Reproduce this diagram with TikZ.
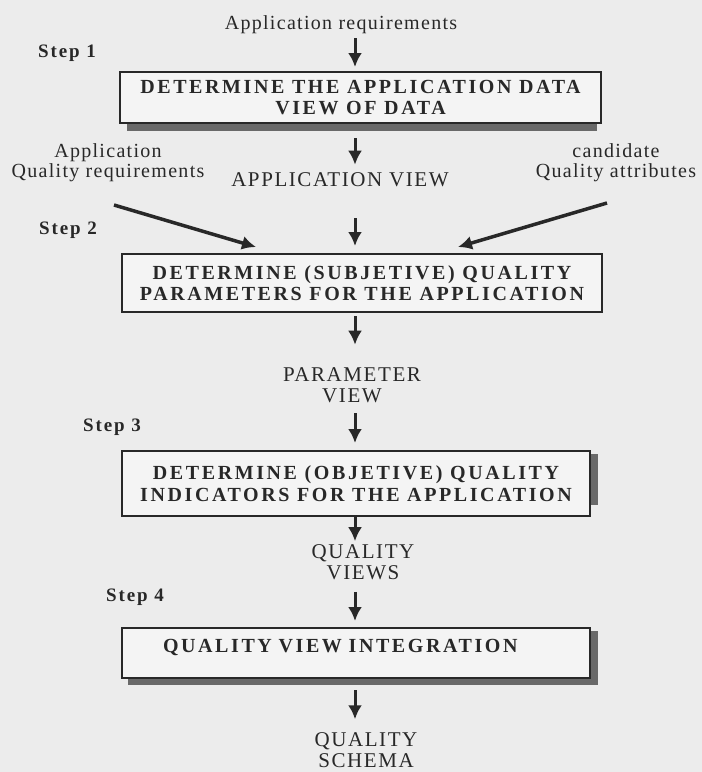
\documentclass[tikz,border=0pt]{standalone}
\usepackage{fontspec}
\setmainfont{Liberation Serif}
\newfontfamily\capsfont[LetterSpace=7.5]{Liberation Serif}
\newfontfamily\lowfont[LetterSpace=6.5]{Liberation Serif}
\newfontfamily\boxfont[LetterSpace=13]{Liberation Serif}
\newfontfamily\stepfont[LetterSpace=10]{Liberation Serif}
\usetikzlibrary{arrows.meta,backgrounds}
\definecolor{paper}{RGB}{236,236,236}
\definecolor{ink}{RGB}{40,40,40}
\definecolor{shade}{RGB}{105,105,105}

\begin{document}
\begin{tikzpicture}[x=1pt,y=-1pt,
    stepbox/.style={draw=ink, line width=2pt, fill=white!40!paper, align=center,
        inner sep=0pt, text=ink, font=\boxfont\bfseries\fontsize{20}{21.5}\selectfont},
    steplabel/.style={text=ink, inner sep=2pt, font=\stepfont\bfseries\fontsize{19}{20}\selectfont},
    lowtext/.style={align=center, text=ink, inner sep=2pt, font=\lowfont\fontsize{20}{20}\selectfont},
    viewtext/.style={align=center, text=ink, inner sep=2pt, font=\capsfont\fontsize{21}{21}\selectfont},
    flow/.style={-{Latex[length=14pt,width=14pt]}, line width=3pt, draw=ink},
    shadow/.style={fill=shade}]

    \useasboundingbox (0,0) rectangle (702,772);
    \coordinate (axis) at (355,0);

    % inputs and steps
    \node[lowtext] (req) at (341,25) {Application requirements};
    \node[steplabel] (step1) at (67,53) {Step 1};
    \node[stepbox, minimum width=481pt, minimum height=51pt] (box1) at (360.5,97.5)
        {DETERMINE THE APPLICATION DATA\\VIEW OF DATA};

    \node[lowtext] (aqr) at (108,163) {Application\\Quality requirements};
    \node[viewtext] (appview) at (340,180) {APPLICATION VIEW};
    \node[lowtext] (cqa) at (616,163) {candidate\\Quality attributes};
    \coordinate (aqrtail) at (114,205);
    \coordinate (cqatail) at (607,203);

    \node[steplabel] (step2) at (68,230) {Step 2};
    \node[stepbox, minimum width=480pt, minimum height=58pt] (box2) at (362,283)
        {DETERMINE (SUBJETIVE) QUALITY\\PARAMETERS FOR THE APPLICATION};
    \node[viewtext] (paramview) at (352,385.5) {PARAMETER\\VIEW};

    \node[steplabel] (step3) at (112,427) {Step 3};
    \node[stepbox, minimum width=468pt, minimum height=65pt] (box3) at (356,483.5)
        {DETERMINE (OBJETIVE) QUALITY\\INDICATORS FOR THE APPLICATION};
    \node[viewtext] (qviews) at (363,562) {QUALITY\\VIEWS};

    \node[steplabel] (step4) at (135,597) {Step 4};
    \node[stepbox, minimum width=468pt, minimum height=50pt, align=left,
        text width=386pt, inner xsep=41pt, text height=14pt, text depth=15pt] (box4) at (356,653)
        {QUALITY VIEW INTEGRATION};
    \node[viewtext] (qschema) at (366,750) {QUALITY\\SCHEMA};

    % paper and shadows
    \begin{scope}[on background layer]
        \fill[paper] (0,0) rectangle (702,772);
        \fill[shadow] ([xshift=8pt]box1.south west) rectangle ([xshift=-5pt,yshift=-7pt]box1.south east);
        \fill[shadow] ([yshift=-4pt]box3.north east) rectangle ([xshift=7pt,yshift=12pt]box3.south east);
        \fill[shadow] ([xshift=7pt,yshift=-6pt]box4.south west) rectangle ([xshift=7pt,yshift=-4pt]box4.north east);
    \end{scope}

    % arrows
    \draw[flow, shorten <=2pt, shorten >=4pt] (req.south -| axis) -- (box1.north -| axis);
    \draw[flow, shorten <=14pt, shorten >=6pt] (box1.south -| axis) -- (appview.north -| axis);
    \draw[flow, shorten <=29pt, shorten >=7pt] (appview.south -| axis) -- (box2.north -| axis);
    \draw[flow, line width=3.5pt] (aqrtail) -- ([xshift=135pt,yshift=6pt]box2.north west);
    \draw[flow, line width=3.5pt] (cqatail) -- ([xshift=-145pt,yshift=6pt]box2.north east);
    \draw[flow, shorten <=3pt, shorten >=21pt] (box2.south -| axis) -- (paramview.north -| axis);
    \draw[flow, shorten <=8pt, shorten >=7pt] (paramview.south -| axis) -- (box3.north -| axis);
    \draw[flow, shorten >=1pt] (box3.south -| axis) -- (qviews.north -| axis);
    \draw[flow, shorten <=10pt, shorten >=6pt] (qviews.south -| axis) -- (box4.north -| axis);
    \draw[flow, shorten <=11pt, shorten >=11pt] (box4.south -| axis) -- (qschema.north -| axis);
\end{tikzpicture}
\end{document}
